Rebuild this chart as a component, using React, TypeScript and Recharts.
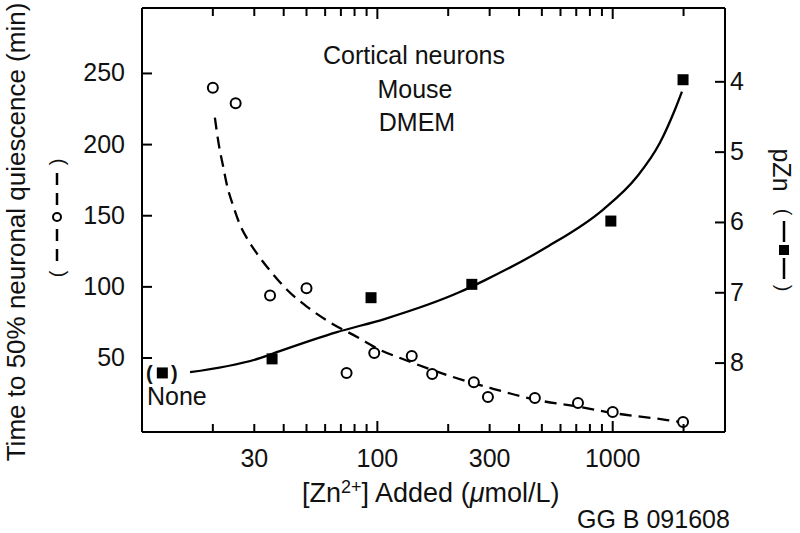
import React from "react";
import { ComposedChart, XAxis, YAxis, Scatter, Line } from "recharts";

const FONT = "'Liberation Sans', Arial, Helvetica, sans-serif";

// axis ticks
const concTicks = [20, 30, 40, 50, 60, 70, 80, 90, 100, 200, 300, 400, 500, 600, 700, 800, 900, 1000, 2000];
const concLabels = [30, 100, 300, 1000];
const concMajor = [100, 1000];
const timeTicks = [50, 100, 150, 200, 250];
const pznTicks = [4, 5, 6, 7, 8];

const CONC_DOMAIN = [10, 3000];
const TIME_DOMAIN = [-2, 296];
const PZN_DOMAIN = [2.95, 8.98];

// open circles: time to 50% quiescence (min)
const circleConc = [20, 25, 35, 50, 74, 97, 140, 171, 257, 295, 467, 712, 1000, 1990];
const circleTime = [240, 229, 94, 99, 39.5, 53.5, 51.4, 38.8, 33, 22.6, 21.9, 18.4, 12, 5];

// filled squares: pZn (first one is "None")
const squareConc = [12.2, 35.7, 94, 252, 982, 1990];
const squarePzn = [8.14, 7.94, 7.07, 6.88, 5.98, 3.97];

// dashed fit through circles
const dashConc = [20.4, 21.2, 22.1, 23, 24.4, 26.1, 28.2, 31.1, 34, 41.3, 50.3, 63, 82, 103, 125, 198, 301, 476, 726, 1000, 1700, 1930];
const dashTime = [219, 200, 185, 171, 157, 143.5, 133, 122.4, 114, 98, 86, 75, 64.8, 55.6, 50, 38, 29, 20.5, 15.6, 11.4, 6.4, 5];

// solid fit through squares
const solidConc = [16, 31.7, 38.5, 67.3, 108, 224, 287, 525, 908, 1267, 1585, 1836, 1968];
const solidPzn = [8.13, 7.93, 7.83, 7.56, 7.37, 6.99, 6.82, 6.35, 5.82, 5.35, 4.87, 4.4, 4.14];

const circles = circleConc.map((x, i) => ({ x, t: circleTime[i] }));
const squares = squareConc.map((x, i) => ({ x, p: squarePzn[i] }));
const dashFit = dashConc.map((x, i) => ({ x, t: dashTime[i] }));
const solidFit = solidConc.map((x, i) => ({ x, p: solidPzn[i] }));

// plot box (chart margins + axis sizes below)
const BOX = { left: 142, right: 725, top: 8, bottom: 432 };

const axisStyle = { stroke: "#000", strokeWidth: 2 };

const BottomTick = (props: any) => {
  const { x, y, payload } = props;
  const v = payload.value;
  if (!concLabels.includes(v)) return <g />;
  return (
    <text x={x} y={y + 35} textAnchor="middle" fontSize={25} fontFamily={FONT} fill="#111">
      {v}
    </text>
  );
};

const LeftTick = (props: any) => {
  const { x, y, payload } = props;
  return (
    <text x={x - 17} y={y + 8} textAnchor="end" fontSize={25} fontFamily={FONT} fill="#111">
      {payload.value}
    </text>
  );
};

const RightTick = (props: any) => {
  const { x, y, payload } = props;
  return (
    <text x={x + 5} y={y + 8} textAnchor="start" fontSize={25} fontFamily={FONT} fill="#111">
      {payload.value}
    </text>
  );
};

const OpenCircle = (p: any) => (
  <circle cx={p.cx} cy={p.cy} r={5} fill="#fff" stroke="#000" strokeWidth={2} />
);

const FilledSquare = (p: any) => (
  <rect x={p.cx - 5.5} y={p.cy - 5.5} width={11} height={11} fill="#000" />
);

// inward tick marks on the frame (same domains as the axes)
function TickMarks() {
  const w = BOX.right - BOX.left;
  const h = BOX.bottom - BOX.top;
  const xOf = (v: number) =>
    BOX.left + (w * Math.log10(v / CONC_DOMAIN[0])) / Math.log10(CONC_DOMAIN[1] / CONC_DOMAIN[0]);
  const yTime = (t: number) => BOX.top + (h * (TIME_DOMAIN[1] - t)) / (TIME_DOMAIN[1] - TIME_DOMAIN[0]);
  const yPzn = (p: number) => BOX.top + (h * (p - PZN_DOMAIN[0])) / (PZN_DOMAIN[1] - PZN_DOMAIN[0]);
  const len = (v: number) => (concMajor.includes(v) ? 11 : 8);
  const s = { stroke: "#000", strokeWidth: 2 };
  return (
    <svg
      width={800}
      height={533}
      style={{ position: "absolute", left: 0, top: 0, pointerEvents: "none" }}
    >
      {concTicks.map((v) => (
        <g key={`x${v}`}>
          <line {...s} x1={xOf(v)} x2={xOf(v)} y1={BOX.bottom} y2={BOX.bottom - len(v)} />
          <line {...s} x1={xOf(v)} x2={xOf(v)} y1={BOX.top} y2={BOX.top + len(v)} />
        </g>
      ))}
      {timeTicks.map((t) => (
        <line key={`t${t}`} {...s} x1={BOX.left} x2={BOX.left + 10} y1={yTime(t)} y2={yTime(t)} />
      ))}
      {pznTicks.map((p) => (
        <line key={`p${p}`} {...s} x1={BOX.right} x2={BOX.right - 10} y1={yPzn(p)} y2={yPzn(p)} />
      ))}
    </svg>
  );
}

function Notes() {
  const t = { fontFamily: FONT, fontSize: 25, fill: "#111" };
  return (
    <svg
      width={800}
      height={533}
      style={{ position: "absolute", left: 0, top: 0, pointerEvents: "none" }}
    >
      <text {...t} x={414} y={64} textAnchor="middle">Cortical neurons</text>
      <text {...t} x={415} y={98} textAnchor="middle">Mouse</text>
      <text {...t} x={417} y={131} textAnchor="middle">DMEM</text>

      <text {...t} x={147} y={405}>None</text>
      <text {...t} fontSize={20} fontWeight="bold" x={146} y={380}>(</text>
      <text {...t} fontSize={20} fontWeight="bold" x={171} y={380}>)</text>

      <text {...t} fontSize={27} x={302} y={502}>
        [Zn<tspan fontSize={18} dy={-9}>2+</tspan>
        <tspan dy={9}>] Added (</tspan>
        <tspan fontStyle="italic">μ</tspan>mol/L)
      </text>
      <text {...t} x={577} y={528}>GG B 091608</text>

      <text {...t} fontSize={26} transform="translate(25,232) rotate(-90)" textAnchor="middle">
        Time to 50% neuronal quiescence (min)
      </text>
      <text {...t} transform="translate(773,170) rotate(90)" textAnchor="middle">
        pZn
      </text>

      {/* left legend: ( - - o - - ) */}
      <g transform="translate(57,217) rotate(-90)">
        <text {...t} fontSize={20} x={-57} y={7} textAnchor="middle">(</text>
        <line x1={-44} x2={-32} y1={0} y2={0} stroke="#000" strokeWidth={2.5} />
        <line x1={-24} x2={-12} y1={0} y2={0} stroke="#000" strokeWidth={2.5} />
        <circle cx={0} cy={0} r={4} fill="#fff" stroke="#000" strokeWidth={2} />
        <line x1={12} x2={24} y1={0} y2={0} stroke="#000" strokeWidth={2.5} />
        <line x1={32} x2={44} y1={0} y2={0} stroke="#000" strokeWidth={2.5} />
        <text {...t} fontSize={20} x={55} y={7} textAnchor="middle">)</text>
      </g>

      {/* right legend: ( -■- ) */}
      <g transform="translate(784,250) rotate(90)">
        <text {...t} fontSize={20} x={-38} y={7} textAnchor="middle">(</text>
        <line x1={-29} x2={-8} y1={0} y2={0} stroke="#000" strokeWidth={2.5} />
        <rect x={-5} y={-5} width={10} height={10} fill="#000" />
        <line x1={8} x2={29} y1={0} y2={0} stroke="#000" strokeWidth={2.5} />
        <text {...t} fontSize={20} x={38} y={7} textAnchor="middle">)</text>
      </g>
    </svg>
  );
}

const layer = { position: "absolute" as const, left: 0, top: 0, width: 800, height: 533 };

export default function App() {
  return (
    <div style={{ ...layer, background: "#fff" }}>
      <Notes />
      <div style={layer}>
        <ComposedChart width={800} height={533} margin={{ top: 7, right: 0, bottom: 0, left: 0 }}>
          <XAxis
            xAxisId="b"
            dataKey="x"
            type="number"
            scale="log"
            domain={CONC_DOMAIN}
            allowDataOverflow
            ticks={concTicks}
            interval={0}
            height={101}
            tickSize={0}
            tickMargin={0}
            tickLine={false}
            axisLine={axisStyle}
            tick={<BottomTick />}
          />
          <XAxis
            xAxisId="top"
            orientation="top"
            dataKey="x"
            type="number"
            scale="log"
            domain={CONC_DOMAIN}
            allowDataOverflow
            height={1}
            tick={false}
            tickLine={false}
            axisLine={axisStyle}
          />
          <YAxis
            yAxisId="t"
            dataKey="t"
            type="number"
            domain={TIME_DOMAIN}
            allowDataOverflow
            ticks={timeTicks}
            interval={0}
            width={142}
            tickSize={0}
            tickMargin={0}
            tickLine={false}
            axisLine={axisStyle}
            tick={<LeftTick />}
          />
          <YAxis
            yAxisId="p"
            dataKey="p"
            orientation="right"
            reversed
            type="number"
            domain={PZN_DOMAIN}
            allowDataOverflow
            ticks={pznTicks}
            interval={0}
            width={75}
            tickSize={0}
            tickMargin={0}
            tickLine={false}
            axisLine={axisStyle}
            tick={<RightTick />}
          />
          <Line
            xAxisId="b"
            yAxisId="t"
            data={dashFit}
            dataKey="t"
            type="monotone"
            stroke="#000"
            strokeWidth={2.3}
            strokeDasharray="12 7"
            dot={false}
            isAnimationActive={false}
          />
          <Line
            xAxisId="b"
            yAxisId="p"
            data={solidFit}
            dataKey="p"
            type="monotone"
            stroke="#000"
            strokeWidth={2.3}
            dot={false}
            isAnimationActive={false}
          />
          <Scatter xAxisId="b" yAxisId="t" data={circles} dataKey="t" shape={OpenCircle} isAnimationActive={false} />
          <Scatter xAxisId="b" yAxisId="p" data={squares} dataKey="p" shape={FilledSquare} isAnimationActive={false} />
        </ComposedChart>
      </div>
      <TickMarks />
    </div>
  );
}
